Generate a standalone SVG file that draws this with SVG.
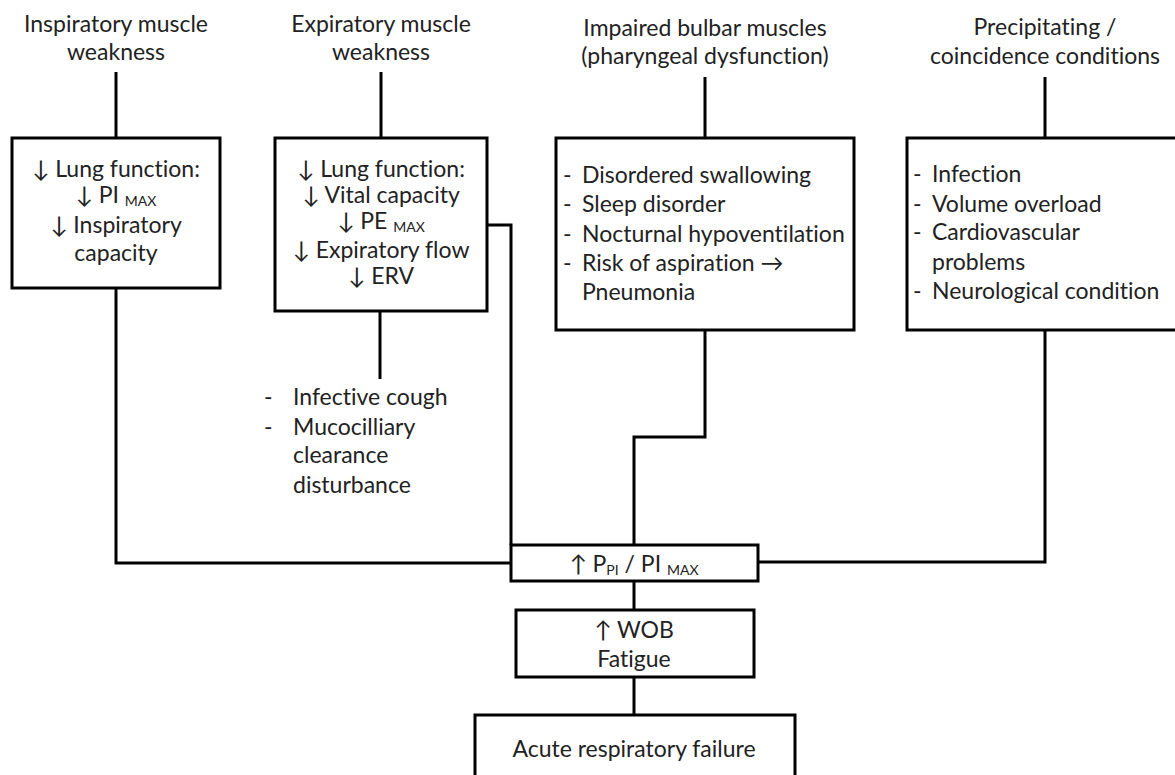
<svg xmlns="http://www.w3.org/2000/svg" width="1175" height="775" viewBox="0 0 1175 775">
<style>
.box{fill:#fff;stroke:#000;stroke-width:3}
.conn{fill:none;stroke:#000;stroke-width:3}
text{font-family:Lato,"Open Sans","Liberation Sans",sans-serif;font-size:23px;fill:#222;font-variant-ligatures:none}
.c{text-anchor:middle}
.sub{font-size:14px}
</style>
<rect width="1175" height="775" fill="#fff"/>
<g id="connectors">
<path class="conn" d="M116 72V138"/>
<path class="conn" d="M116 288V563H511"/>
<path class="conn" d="M381 72V138"/>
<path class="conn" d="M380 312V379"/>
<path class="conn" d="M487 225H511V545"/>
<path class="conn" d="M705 77V138"/>
<path class="conn" d="M705 330V437H634V545"/>
<path class="conn" d="M1045 77V138"/>
<path class="conn" d="M1045 330V562H758"/>
<path class="conn" d="M634 581V610"/>
<path class="conn" d="M634 677V715"/>
</g>
<g id="h-insp">
<text class="c" x="116" y="32">Inspiratory muscle</text>
<text class="c" x="116" y="60">weakness</text>
</g>
<g id="h-exp">
<text class="c" x="381" y="32">Expiratory muscle</text>
<text class="c" x="381" y="60">weakness</text>
</g>
<g id="h-bulbar">
<text class="c" x="705" y="36">Impaired bulbar muscles</text>
<text class="c" x="705" y="64">(pharyngeal dysfunction)</text>
</g>
<g id="h-precip">
<text class="c" x="1045" y="35">Precipitating /</text>
<text class="c" x="1045" y="64">coincidence conditions</text>
</g>
<g id="box-insp">
<rect class="box" x="12" y="138" width="208" height="150"/>
<text class="c" x="116" y="177">↓ Lung function:</text>
<text class="c" x="116" y="203">↓ PI <tspan class="sub" dy="3">MAX</tspan></text>
<text class="c" x="116" y="233">↓ Inspiratory</text>
<text class="c" x="116" y="261">capacity</text>
</g>
<g id="box-exp">
<rect class="box" x="275" y="138" width="212" height="173"/>
<text class="c" x="381" y="177">↓ Lung function:</text>
<text class="c" x="381" y="203">↓ Vital capacity</text>
<text class="c" x="381" y="229">↓ PE <tspan class="sub" dy="3">MAX</tspan></text>
<text class="c" x="381" y="258">↓ Expiratory flow</text>
<text class="c" x="381" y="284">↓ ERV</text>
</g>
<g id="list-exp">
<text x="264" y="405">-</text><text x="293" y="405">Infective cough</text>
<text x="264" y="435">-</text><text x="293" y="435">Mucocilliary</text>
<text x="293" y="463">clearance</text>
<text x="293" y="493">disturbance</text>
</g>
<g id="box-bulbar">
<rect class="box" x="556" y="138" width="298" height="192"/>
<text x="563" y="183">-</text><text x="582" y="183">Disordered swallowing</text>
<text x="563" y="212">-</text><text x="582" y="212">Sleep disorder</text>
<text x="563" y="242">-</text><text x="582" y="242">Nocturnal hypoventilation</text>
<text x="563" y="271">-</text><text x="582" y="271">Risk of aspiration →</text>
<text x="582" y="300">Pneumonia</text>
</g>
<g id="box-precip">
<rect class="box" x="907" y="138" width="275" height="192"/>
<text x="913" y="182">-</text><text x="932" y="182">Infection</text>
<text x="913" y="212">-</text><text x="932" y="212">Volume overload</text>
<text x="913" y="240">-</text><text x="932" y="240">Cardiovascular</text>
<text x="932" y="270">problems</text>
<text x="913" y="299">-</text><text x="932" y="299">Neurological condition</text>
</g>
<g id="box-ppi">
<rect class="box" x="511" y="545" width="247" height="36"/>
<text class="c" x="634" y="572">↑ P<tspan class="sub" dy="3">PI</tspan><tspan dy="-3"> / PI </tspan><tspan class="sub" dy="3">MAX</tspan></text>
</g>
<g id="box-wob">
<rect class="box" x="516" y="610" width="238" height="67"/>
<text class="c" x="634" y="638">↑ WOB</text>
<text class="c" x="634" y="667">Fatigue</text>
</g>
<g id="box-arf">
<rect class="box" x="475" y="715" width="320" height="75"/>
<text class="c" x="634" y="757">Acute respiratory failure</text>
</g>
</svg>
